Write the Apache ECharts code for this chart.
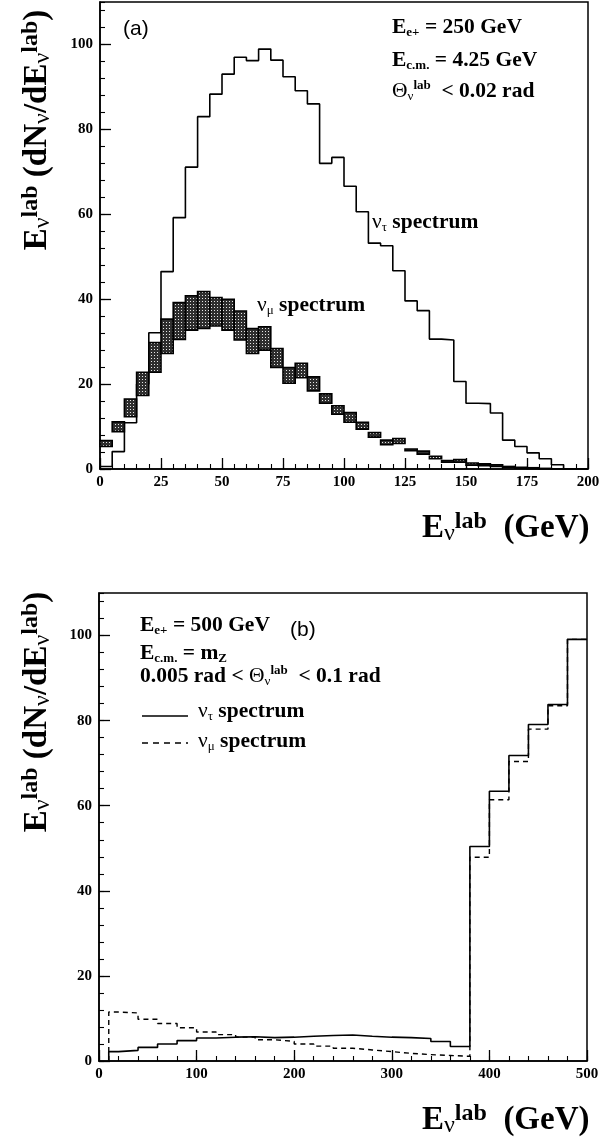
<!DOCTYPE html>
<html>
<head>
<meta charset="utf-8">
<script src="https://cdn.jsdelivr.net/npm/echarts@6/dist/echarts.min.js"></script>
<style>
  html, body { margin: 0; padding: 0; background: #fff; }
  #chart { width: 611px; height: 1137px; }
</style>
</head>
<body>
<div id="chart"></div>
<script>
// ---- panel (a): 5 GeV bins, 0-200 GeV
const edgesA = [0,5,10,15,20,25,30,35,40,45,50,55,60,65,70,75,80,85,90,95,100,
  105,110,115,120,125,130,135,140,145,150,155,160,165,170,175,180,185,190,195,200];
const tauA = [0.6,4.1,10.9,20.0,32.1,46.5,59.2,71.1,83.0,88.3,93.0,97.0,96.2,98.9,96.3,
  92.4,89.1,86.0,72.0,73.4,66.6,60.6,53.2,52.6,46.7,39.6,37.3,30.6,30.4,20.6,
  15.5,15.4,13.2,6.8,5.3,3.8,2.4,1.0,0,0];
const muLowA = [5.3,8.8,12.3,17.3,22.8,27.2,30.5,32.7,33.1,33.7,32.7,30.4,27.2,28.0,23.9,
  20.2,21.5,18.4,15.5,12.9,11.0,9.4,7.5,5.7,6.0,4.3,3.5,2.4,1.6,1.6,
  0.9,0.8,0.6,0.4,0.2,0.1,0.05,0,0,0];
const muHighA = [6.7,11.1,16.5,22.8,29.8,35.3,39.2,40.8,41.8,40.4,40.0,37.2,33.1,33.5,28.4,
  23.9,24.9,21.7,17.7,14.9,13.3,11.0,8.6,6.8,7.2,4.7,4.2,3.0,2.0,2.2,
  1.4,1.2,1.0,0.6,0.4,0.3,0.15,0.05,0,0];

// ---- panel (b): 20 GeV bins, 0-500 GeV
const edgesB = [10,20,40,60,80,100,120,140,160,180,200,220,240,260,280,300,320,340,360,380,
  400,420,440,460,480,500];
const tauB = [2.2,2.5,3.2,4.0,4.8,5.4,5.6,5.7,5.5,5.6,5.8,6.0,6.1,5.8,5.6,5.5,5.3,4.6,3.4,
  50.4,63.4,71.8,79.1,83.8,99.1];
const muB = [11.5,11.3,9.8,8.8,7.8,6.8,6.2,5.6,5.0,4.6,4.0,3.5,3.0,2.6,2.2,1.8,1.5,1.3,1.1,
  47.9,61.4,70.4,78.0,83.5,99.1];

const SERIF = '"Liberation Serif", "Times New Roman", serif';
const SANS = '"Liberation Sans", Arial, sans-serif';

// histogram outline as step points (left edge of each bin + closing right edge)
function stepPoints(edges, vals) {
  const pts = [[edges[0], 0]];
  vals.forEach((v, i) => pts.push([edges[i], v]));
  pts.push([edges[edges.length - 1], vals[vals.length - 1]]);
  return pts;
}

// halftone fill for the nu_mu band
const tile = document.createElement('canvas');
tile.width = 3; tile.height = 3;
const tctx = tile.getContext('2d');
tctx.fillStyle = '#2e2e2e'; tctx.fillRect(0, 0, 3, 3);
tctx.fillStyle = '#e6e6e6'; tctx.fillRect(1, 1, 1, 1);
const halftone = { image: tile, repeat: 'repeat' };

function axisPair(kind, grid, min, max, major, minor, showLabel) {
  const base = {
    gridIndex: grid, type: 'value', min: min, max: max,
    splitLine: { show: false }
  };
  const majorAx = Object.assign({}, base, {
    interval: major,
    axisLine: { show: true, lineStyle: { color: '#000', width: 1.5 } },
    axisTick: { show: true, inside: true, length: 11, lineStyle: { color: '#000', width: 1.3 } },
    axisLabel: {
      show: showLabel, color: '#000', fontFamily: SERIF, fontWeight: 'bold', fontSize: 15,
      margin: kind === 'x' ? 6 : 7, showMaxLabel: kind === 'x'
    }
  });
  const minorAx = Object.assign({}, base, {
    interval: minor,
    axisLine: { show: false },
    axisTick: { show: true, inside: true, length: 5, lineStyle: { color: '#000', width: 1.1 } },
    axisLabel: { show: false }
  });
  if (kind === 'x') { majorAx.position = 'bottom'; minorAx.position = 'bottom'; }
  else { majorAx.position = 'left'; minorAx.position = 'left'; }
  return [majorAx, minorAx];
}

function rich(size, ratio) {
  const sub = Math.round(size * (ratio || 0.62));
  return {
    m:  { fontFamily: SERIF, fontWeight: 'bold', fontSize: size, lineHeight: size + 3, color: '#000' },
    s:  { fontFamily: SERIF, fontWeight: 'bold', fontSize: sub, lineHeight: 8, verticalAlign: 'bottom', color: '#000' },
    p:  { fontFamily: SERIF, fontWeight: 'bold', fontSize: sub, lineHeight: sub + 3, verticalAlign: 'top', color: '#000' },
    g:  { fontFamily: SERIF, fontWeight: 'normal', fontSize: size, lineHeight: size + 3, color: '#000' },
    gs: { fontFamily: SERIF, fontWeight: 'normal', fontSize: sub, lineHeight: 8, verticalAlign: 'bottom', color: '#000' }
  };
}

function txt(x, y, text, size, opts, align, ratio) {
  return Object.assign({
    type: 'text', x: x, y: y, z: 10,
    style: { text: text, rich: rich(size, ratio), fill: '#000', align: align || 'left', verticalAlign: 'middle' }
  }, opts || {});
}

const xA = axisPair('x', 0, 0, 200, 25, 5, true);
const yA = axisPair('y', 0, 0, 110, 20, 4, true);
const xB = axisPair('x', 1, 0, 500, 100, 20, true);
const yB = axisPair('y', 1, 0, 110, 20, 4, true);

const yTitle = '{m|E}{gs|ν}{p|lab}{m| (dN}{gs|ν}{m|/dE}{gs|ν}{p|lab}{m|)}';
const xTitle = '{m|E}{gs|ν}{p|lab}{m|  (GeV)}';
const TITLE = 33, TR = 0.72, NOTE = 21.5;

const option = {
  animation: false,
  backgroundColor: '#fff',
  grid: [
    { left: 100, top: 2, width: 488, height: 467, show: true, borderColor: '#000', borderWidth: 1.5 },
    { left: 99, top: 593, width: 488, height: 468, show: true, borderColor: '#000', borderWidth: 1.5 }
  ],
  xAxis: [xA[0], xA[1], xB[0], xB[1]],
  yAxis: [yA[0], yA[1], yB[0], yB[1]],
  series: [
    {
      type: 'line', xAxisIndex: 0, yAxisIndex: 0, step: 'end', symbol: 'none',
      data: stepPoints(edgesA, tauA),
      lineStyle: { color: '#000', width: 1.6 }, z: 2
    },
    {
      type: 'custom', xAxisIndex: 0, yAxisIndex: 0, z: 3,
      data: muLowA.map((lo, i) => [edgesA[i], edgesA[i + 1], lo, muHighA[i]]),
      encode: { x: [0, 1], y: [2, 3] },
      renderItem: function (params, api) {
        const p0 = api.coord([api.value(0), api.value(3)]);
        const p1 = api.coord([api.value(1), api.value(2)]);
        return {
          type: 'rect',
          shape: { x: p0[0], y: p0[1], width: p1[0] - p0[0], height: p1[1] - p0[1] },
          style: { fill: halftone, stroke: '#000', lineWidth: 1.6 }
        };
      }
    },
    {
      type: 'line', xAxisIndex: 2, yAxisIndex: 2, step: 'end', symbol: 'none',
      data: stepPoints(edgesB, muB),
      lineStyle: { color: '#000', width: 1.4, type: [5, 4] }, z: 2
    },
    {
      type: 'line', xAxisIndex: 2, yAxisIndex: 2, step: 'end', symbol: 'none',
      data: stepPoints(edgesB, tauB),
      lineStyle: { color: '#000', width: 1.6 }, z: 3
    }
  ],
  graphic: [
    // panel (a)
    { type: 'text', x: 123, y: 29, z: 10,
      style: { text: '(a)', font: '21px ' + SANS, fill: '#000', verticalAlign: 'middle' } },
    txt(392, 27, '{m|E}{s|e+}{m| = 250 GeV}', NOTE),
    txt(392, 60, '{m|E}{s|c.m.}{m| = 4.25 GeV}', NOTE),
    txt(392, 91, '{g|Θ}{gs|ν}{p|lab}{m|  < 0.02 rad}', NOTE),
    txt(372, 222, '{g|ν}{gs|τ}{m| spectrum}', NOTE),
    txt(257, 305, '{g|ν}{gs|μ}{m| spectrum}', NOTE),
    txt(37, 130, yTitle, TITLE, { rotation: Math.PI / 2 }, 'center', TR),
    txt(422, 528, xTitle, TITLE, null, 'left', TR),
    // panel (b)
    txt(140, 625, '{m|E}{s|e+}{m| = 500 GeV}', NOTE),
    { type: 'text', x: 290, y: 630, z: 10,
      style: { text: '(b)', font: '21px ' + SANS, fill: '#000', verticalAlign: 'middle' } },
    txt(140, 653, '{m|E}{s|c.m.}{m| = m}{s|Z}', NOTE),
    txt(140, 676, '{m|0.005 rad < }{g|Θ}{gs|ν}{p|lab}{m|  < 0.1 rad}', NOTE),
    { type: 'line', z: 10, shape: { x1: 142, y1: 716, x2: 188, y2: 716 },
      style: { stroke: '#000', lineWidth: 1.5 } },
    txt(198, 711, '{g|ν}{gs|τ}{m| spectrum}', NOTE),
    { type: 'line', z: 10, shape: { x1: 142, y1: 743, x2: 188, y2: 743 },
      style: { stroke: '#000', lineWidth: 1.5, lineDash: [6, 5] } },
    txt(198, 741, '{g|ν}{gs|μ}{m| spectrum}', NOTE),
    txt(37, 712, yTitle, TITLE, { rotation: Math.PI / 2 }, 'center', TR),
    txt(422, 1120, xTitle, TITLE, null, 'left', TR)
  ]
};

const chart = echarts.init(document.getElementById('chart'), null, { renderer: 'canvas' });
chart.setOption(option);
</script>
</body>
</html>
